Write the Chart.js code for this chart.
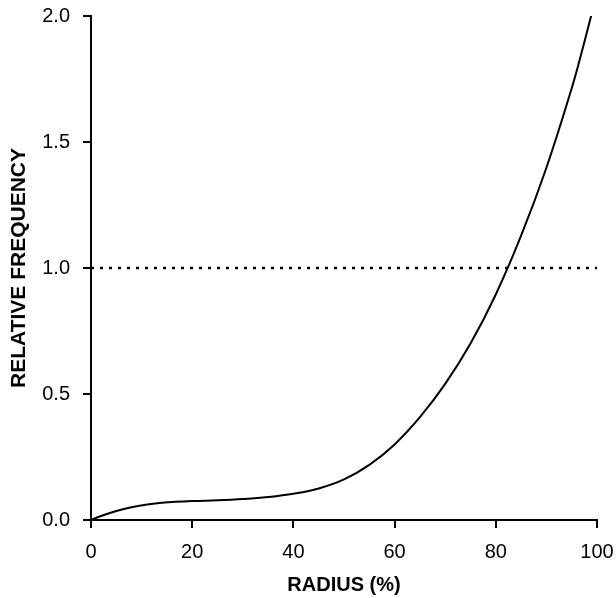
<!DOCTYPE html>
<html>
<head>
<meta charset="utf-8">
<script src="https://cdn.jsdelivr.net/npm/chart.js@4/dist/chart.umd.min.js"></script>
<style>
  html, body { margin: 0; padding: 0; background: #fff; }
  #wrap { width: 616px; height: 598px; }
</style>
</head>
<body>
<div id="wrap"><canvas id="freq-chart"></canvas></div>
<script>
// radius (% of max) and relative frequency along the curve
const radius = [0, 2, 5, 8, 11, 14, 20, 25, 30, 35, 40, 45, 50, 55, 60, 65, 70, 75, 80, 85, 90, 95, 97, 99];
const frequency = [0, 0.016, 0.036, 0.051, 0.061, 0.068, 0.075, 0.078, 0.083, 0.091, 0.104, 0.125, 0.161, 0.219, 0.3, 0.408, 0.54, 0.7, 0.895, 1.128, 1.398, 1.713, 1.858, 2.013];

// reference level
const refX = [0, 100];
const refY = [1, 1];

const xTicks = [0, 20, 40, 60, 80, 100];
const yTicks = [0, 0.5, 1, 1.5, 2];

const FONT = '"Liberation Sans", Arial, sans-serif';
const INK = '#000';

function pairs(xs, ys) {
    return xs.map((x, i) => ({ x, y: ys[i] }));
}

function axis(min, max, step, ticks, title, extra) {
    return {
        type: 'linear',
        min,
        max,
        border: { display: true, color: INK, width: 2 },
        grid: {
            display: true,
            drawOnChartArea: false,
            drawTicks: true,
            tickLength: 8,
            color: INK,
            lineWidth: 2,
        },
        afterBuildTicks: (scale) => {
            scale.ticks = ticks.map((value) => ({ value }));
        },
        ticks: {
            stepSize: step,
            color: INK,
            font: { family: FONT, size: 20 },
            ...extra.ticks,
        },
        title: {
            display: true,
            text: title,
            color: INK,
            font: { family: FONT, size: extra.titleSize, weight: 'bold' },
            padding: extra.titlePadding,
        },
        // fixed box sizes; edge labels are allowed to overhang the layout padding
        afterFit: (scale) => {
            extra.afterFit(scale);
            scale.paddingLeft = 0;
            scale.paddingRight = 0;
            scale.paddingTop = 0;
            scale.paddingBottom = 0;
        },
    };
}

new Chart(document.getElementById('freq-chart'), {
    type: 'line',
    data: {
        datasets: [
            {
                data: pairs(radius, frequency),
                borderColor: INK,
                borderWidth: 2,
                tension: 0.4,
                pointRadius: 0,
                fill: false,
            },
            {
                data: pairs(refX, refY),
                borderColor: INK,
                borderWidth: 2.5,
                borderDash: [3, 6],
                pointRadius: 0,
                fill: false,
            },
        ],
    },
    options: {
        responsive: true,
        maintainAspectRatio: false,
        animation: false,
        layout: { padding: { top: 16, right: 19, bottom: 0, left: 0 } },
        plugins: {
            legend: { display: false },
            tooltip: { enabled: false },
        },
        scales: {
            x: axis(0, 100, 20, xTicks, 'RADIUS (%)', {
                ticks: { padding: 12, callback: (v) => String(v) },
                titleSize: 20,
                titlePadding: { top: 0, bottom: 1 },
                afterFit: (scale) => { scale.height = 78; },
            }),
            y: axis(0, 2, 0.5, yTicks, 'RELATIVE FREQUENCY', {
                ticks: { padding: 13, callback: (v) => v.toFixed(1) },
                titleSize: 21,
                titlePadding: { top: 7, bottom: 0 },
                afterFit: (scale) => { scale.width = 91; },
            }),
        },
    },
});
</script>
</body>
</html>
